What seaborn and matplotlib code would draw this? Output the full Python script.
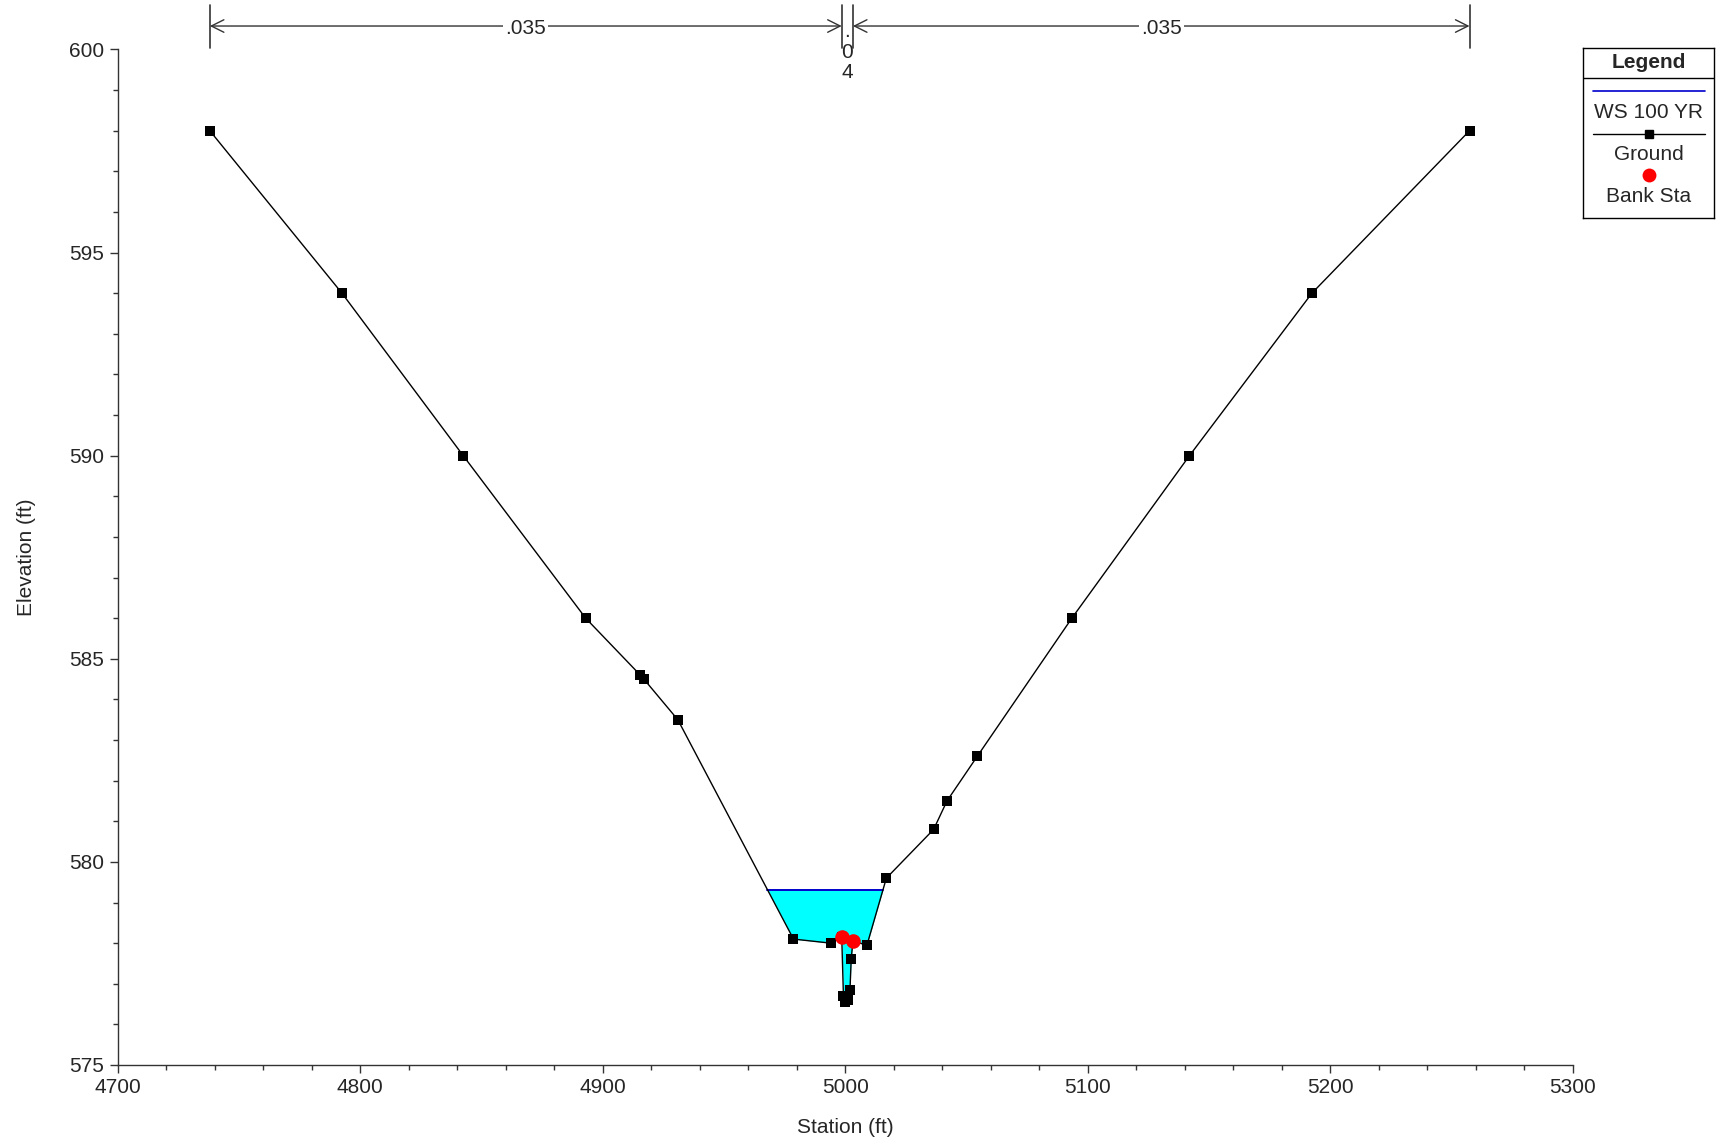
import numpy as np
import pandas as pd
import matplotlib
matplotlib.use("Agg")
import matplotlib.pyplot as plt
from matplotlib.ticker import MultipleLocator
import matplotlib.transforms as mtransforms
import seaborn as sns

# ---------------- data ----------------
ground_station = [4738.0, 4792.5, 4842.5, 4893.0, 4915.5, 4917.0, 4931.0, 4978.7,
                  4994.0, 4998.6, 4999.3, 5000.0, 5001.0, 5002.0, 5002.5, 5003.2,
                  5009.0, 5017.0, 5036.5, 5042.0, 5054.5, 5093.5, 5142.0, 5192.5, 5257.5]
ground_elev = [598.0, 594.0, 590.0, 586.0, 584.6, 584.5, 583.5, 578.1,
               578.0, 578.15, 576.7, 576.55, 576.6, 576.85, 577.6, 578.05,
               577.95, 579.6, 580.8, 581.5, 582.6, 586.0, 590.0, 594.0, 598.0]
bank_station = [4998.6, 5003.2]
bank_elev = [578.15, 578.05]
ws_elev = 579.3
ws_station = [4967.9, 5015.6]
n_breaks = [4738.0, 4998.6, 5003.2, 5257.5]
n_values = [".035", ".04", ".035"]
xlim = (4700, 5300)
ylim = (575, 600)

ground = pd.DataFrame({"Station": ground_station, "Elevation": ground_elev})
banks = pd.DataFrame({"Station": bank_station, "Elevation": bank_elev})
ws = pd.DataFrame({"Station": ws_station, "Elevation": [ws_elev, ws_elev]})

FS = 15

# ---------------- style ----------------
sns.set_theme(style="ticks")
plt.rcParams["font.family"] = ["Liberation Sans", "DejaVu Sans"]
plt.rcParams["font.size"] = FS

fig = plt.figure(figsize=(17.23, 11.48), dpi=100)
ax = fig.add_axes([0.0683, 0.0723, 0.9127 - 0.0683, 0.9569 - 0.0723])

# water fill
gs = np.array(ground_station)
ge = np.array(ground_elev)
ax.fill_between(gs, ge, ws_elev, where=ge < ws_elev, interpolate=True,
                color="#00FFFF", linewidth=0, zorder=1)
sns.lineplot(data=ws, x="Station", y="Elevation", ax=ax, color="#0000CC",
             linewidth=1.4, zorder=2, legend=False)
sns.lineplot(data=ground, x="Station", y="Elevation", ax=ax, sort=False,
             estimator=None, color="black", linewidth=1.0, marker="s",
             markersize=6.5, markeredgewidth=0, zorder=3, legend=False)
sns.scatterplot(data=banks, x="Station", y="Elevation", ax=ax, color="red",
                s=110, linewidth=0, zorder=4, legend=False)

ax.set_xlim(*xlim)
ax.set_ylim(*ylim)
ax.xaxis.set_major_locator(MultipleLocator(100))
ax.xaxis.set_minor_locator(MultipleLocator(20))
ax.yaxis.set_major_locator(MultipleLocator(5))
ax.yaxis.set_minor_locator(MultipleLocator(1))
ax.tick_params(which="major", length=5.5, width=1, color="#333333", labelsize=FS, pad=4)
ax.tick_params(which="minor", length=3.5, width=1, color="#333333")
for s in ["top", "right"]:
    ax.spines[s].set_visible(False)
for s in ["left", "bottom"]:
    ax.spines[s].set_color("#333333")
    ax.spines[s].set_linewidth(1)
ax.set_xlabel("Station (ft)", fontsize=FS, labelpad=15)
ax.set_ylabel("Elevation (ft)", fontsize=FS, labelpad=24)

# Manning's n annotations above the axes
trans = mtransforms.blended_transform_factory(ax.transData, ax.transAxes)
for xb in n_breaks:
    ax.plot([xb, xb], [1.0015, 1.0438], transform=trans, color="#333333",
            lw=1.2, clip_on=False)
y_arrow = 1.0231
for i, lab in enumerate(n_values):
    x0, x1 = n_breaks[i], n_breaks[i + 1]
    xm = (x0 + x1) / 2
    if x1 - x0 > 20:
        ax.annotate("", xy=(x0, y_arrow), xytext=(x1, y_arrow), xycoords=trans,
                    textcoords=trans,
                    arrowprops=dict(arrowstyle="<->,head_length=0.6,head_width=0.3",
                                    color="#333333", lw=1.0, shrinkA=0, shrinkB=0),
                    annotation_clip=False)
        ax.text(xm, y_arrow - 0.002, lab, transform=trans, ha="center", va="center",
                fontsize=FS, bbox=dict(facecolor="white", edgecolor="none", pad=1.5),
                clip_on=False)
    else:
        ax.text(xm, 0.9975, "\n".join(list(lab)), transform=trans, ha="center",
                va="center", fontsize=FS, linespacing=1.12, clip_on=False, zorder=5)

# legend box
lax = fig.add_axes([1583 / 1723, 1 - 218 / 1148, 131 / 1723, 170 / 1148])
lax.set_xlim(0, 131)
lax.set_ylim(170, 0)
lax.set_xticks([])
lax.set_yticks([])
for s in lax.spines.values():
    s.set_color("black")
    s.set_linewidth(1)
lax.set_facecolor("white")
lax.text(65.5, 14, "Legend", ha="center", va="center", fontsize=FS, fontweight="bold")
lax.plot([0, 131], [30, 30], color="black", lw=1)
lax.plot([10, 122], [43, 43], color="#0000CC", lw=1.2)
lax.text(65.5, 64, "WS 100 YR", ha="center", va="center", fontsize=FS)
lax.plot([10, 122], [86, 86], color="black", lw=1)
lax.plot([66], [86], marker="s", color="black", markersize=6)
lax.text(65.5, 106, "Ground", ha="center", va="center", fontsize=FS)
lax.plot([66], [127], marker="o", color="red", markersize=10, markeredgewidth=0)
lax.text(65.5, 148, "Bank Sta", ha="center", va="center", fontsize=FS)

fig.savefig("out.png", dpi=100)
